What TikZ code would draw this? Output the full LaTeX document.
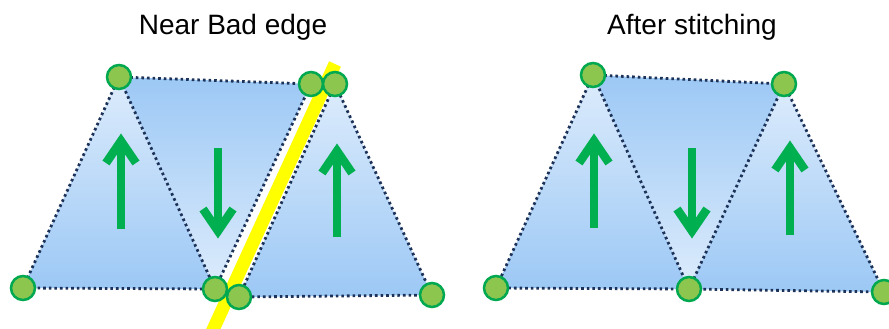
\documentclass[tikz,border=0pt]{standalone}
\usepackage{fontspec}
\setmainfont{Liberation Sans}
\usetikzlibrary{calc}
\definecolor{triLight}{RGB}{221,236,252}
\definecolor{triDark}{RGB}{156,200,245}
\definecolor{dotNavy}{RGB}{28,50,88}
\definecolor{vertFill}{RGB}{141,198,79}
\definecolor{vertEdge}{RGB}{0,168,80}
\definecolor{arrGreen}{RGB}{0,176,80}
\definecolor{badYellow}{RGB}{255,255,0}
\tikzset{
  dotedge/.style={draw=dotNavy,line width=2.8pt,dash pattern=on 2.6pt off 3pt,line cap=butt},
  uptri/.style={top color=triLight,bottom color=triDark,draw=none},
  downtri/.style={top color=triDark,bottom color=triLight,draw=none},
  vert/.style={circle,fill=vertFill,draw=vertEdge,line width=2.5pt,minimum size=24pt,inner sep=0pt},
  greenarr/.style={draw=arrGreen,line width=8.5pt},
  title/.style={font=\fontsize{28}{34}\selectfont,anchor=base,inner sep=0pt},
  badline/.style={draw=badYellow,line width=13pt}
}
\newcommand\UpArr[3]{%
  \draw[greenarr] (#1,#3) -- (#1,#2+6);
  \draw[greenarr,line join=miter] (#1-15,#2+28) -- (#1,#2+6) -- (#1+15,#2+28);}
\newcommand\DownArr[3]{%
  \draw[greenarr] (#1,#2) -- (#1,#3-6);
  \draw[greenarr,line join=miter] (#1-15,#3-28) -- (#1,#3-6) -- (#1+15,#3-28);}
\begin{document}
\begin{tikzpicture}[x=1pt,y=-1pt]
\useasboundingbox (0,0) rectangle (889,329);
\fill[white] (0,0) rectangle (889,329);
% titles
\node[title] (t1) at (233,35) {Near Bad edge};
\node[title] (t2) at (692,35) {After stitching};
% ---------- left diagram ----------
\coordinate (A) at (119,77);
\coordinate (B) at (23,288);
\coordinate (C) at (215,289);
\coordinate (D1) at (311,84);
\coordinate (D2) at (335,84);
\coordinate (E) at (239,297);
\coordinate (F) at (432,295);
\shade[uptri] (A) -- (B) -- (C) -- cycle;
\shade[downtri] (A) -- (D1) -- (C) -- cycle;
\shade[uptri] (D2) -- (E) -- (F) -- cycle;
\draw[dotedge] (A) -- (B) -- (C) -- cycle;
\draw[dotedge] (A) -- (D1) -- (C);
\draw[dotedge] (D2) -- (E) -- (F) -- cycle;
\UpArr{121}{135}{229}
\DownArr{218}{148}{237}
\UpArr{337}{145}{237}
\coordinate (Y1) at (335,64);
\coordinate (Y2) at (206,345);
\draw[badline] (Y1) -- (Y2);
\node[vert] (vA) at (A) {};
\node[vert] (vB) at (B) {};
\node[vert] (vC) at (C) {};
\node[vert] (vD1) at (D1) {};
\node[vert] (vD2) at (D2) {};
\node[vert] (vE) at (E) {};
\node[vert] (vF) at (F) {};
% ---------- right diagram ----------
\coordinate (P) at (593,75);
\coordinate (Q) at (496,288);
\coordinate (R) at (689,289);
\coordinate (S) at (784,84);
\coordinate (T) at (884,292);
\shade[uptri] (P) -- (Q) -- (R) -- cycle;
\shade[downtri] (P) -- (S) -- (R) -- cycle;
\shade[uptri] (S) -- (R) -- (T) -- cycle;
\draw[dotedge] (P) -- (Q) -- (R) -- cycle;
\draw[dotedge] (P) -- (S) -- (R);
\draw[dotedge] (S) -- (T) -- (R);
\UpArr{594}{135}{228}
\DownArr{692}{148}{237}
\UpArr{790}{142}{235}
\node[vert] (vP) at (P) {};
\node[vert] (vQ) at (Q) {};
\node[vert] (vR) at (R) {};
\node[vert] (vS) at (S) {};
\node[vert] (vT) at (T) {};
\end{tikzpicture}
\end{document}
